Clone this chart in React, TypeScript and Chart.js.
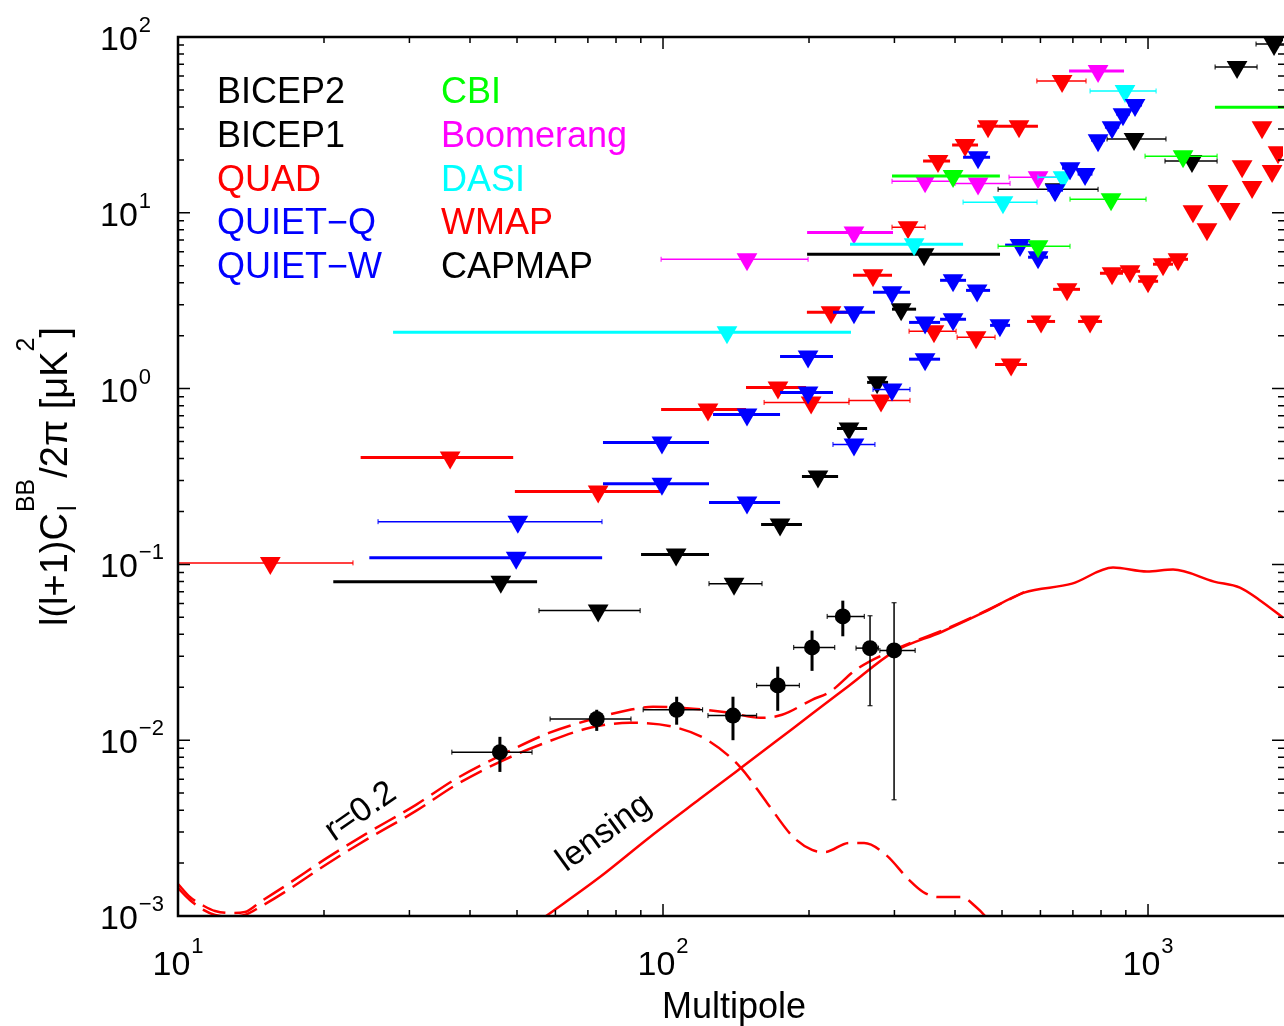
import React, { useEffect, useRef } from 'react';
import { Chart, registerables } from 'chart.js';

Chart.register(...registerables);

type Band = [number, number, number | null, number | null];

// ---------- axis ranges ----------
const X_MIN = 10;
const X_MAX = 1898;
const Y_MIN = 0.001;
const Y_MAX = 100;

// ---------- model curves ----------
const lensingL = [57.4, 74.1, 94.0, 119.2, 142.1, 169.4, 202.9, 241.8, 299.5, 376.1, 456.9, 555.2, 697, 847, 995, 1126, 1368, 1547, 1694, 1898];
const lensingV = [0.001, 0.001667, 0.002818, 0.00464, 0.00669, 0.00966, 0.01414, 0.0204, 0.0319, 0.0414, 0.0531, 0.0691, 0.0777, 0.0959, 0.091, 0.0934, 0.0798, 0.0738, 0.063, 0.0498];

const tensorL = [10, 10.58, 11.31, 11.92, 12.8, 13.74, 14.76, 16.86, 20.29, 24.41, 30.95, 37.43, 46.1, 55.8, 70.7, 85.5, 104.9, 123.2, 144.1, 163.9, 185.4, 202.9, 215.8, 241.8, 259.8, 288.3, 321.6, 343.7, 369, 411.7, 442, 461.3, 495];
const tensorV = [0.001443, 0.001233, 0.00108, 0.001013, 0.00099, 0.001013, 0.001125, 0.001406, 0.001977, 0.00271, 0.00396, 0.00557, 0.00753, 0.00942, 0.01177, 0.01256, 0.01192, 0.01005, 0.00706, 0.0044, 0.00282, 0.002376, 0.002314, 0.002604, 0.002604, 0.002225, 0.001603, 0.00137, 0.001283, 0.001283, 0.001125, 0.001, 0.00078];

const totalL = [10, 10.58, 11.31, 11.92, 12.8, 13.74, 14.76, 16.86, 20.29, 24.41, 30.95, 37.43, 46.1, 58.2, 70.7, 85.5, 95.4, 115.3, 137.5, 158.5, 176, 202.9, 221, 250, 299.5, 376.1, 456.9, 555.2];
const totalV = [0.00152, 0.001283, 0.00114, 0.001068, 0.00104, 0.001054, 0.0012, 0.00152, 0.00214, 0.00293, 0.00429, 0.00603, 0.00815, 0.011, 0.01306, 0.0149, 0.0155, 0.0151, 0.01432, 0.0134, 0.01395, 0.01698, 0.01886, 0.0252, 0.0327, 0.042, 0.0535, 0.0695];

// ---------- BICEP2 detections ----------
const bicep2L = [46.1, 73.0, 106.7, 139.4, 172.4, 202.9, 234.8, 267.2, 299.5];
const bicep2V = [0.00855, 0.0132, 0.0149, 0.0138, 0.0205, 0.0337, 0.0506, 0.0334, 0.0324];
const bicep2VLow = [0.0066, 0.0113, 0.01225, 0.01, 0.0147, 0.0248, 0.039, 0.0157, 0.00458];
const bicep2VHigh = [0.01045, 0.0149, 0.01767, 0.01767, 0.0262, 0.042, 0.0622, 0.051, 0.0605];
const bicep2LLow = [36.7, 58.5, 91.0, 123.8, 156, 186, 218, 250, 280];
const bicep2LHigh = [53.7, 85.9, 120.7, 156, 191, 226, 260, 278, 331];

// ---------- upper limits: [multipole, limit, band low, band high] ----------
const quadBands: Band[] = [
  [36.4, 0.406, 23.8, 49.1], [73.5, 0.26, 49.5, 98.6], [123.8, 0.761, 99.1, 148.3], [172.6, 1.016, 148.3, 197.2],
  [222, 2.72, 198, 246.5], [271, 4.41, 246.5, 296.6], [369, 19.7, 343.7, 390.7], [419.6, 24.3, 394.5, 446.2],
  [467.9, 31.1, 444.2, 490.7], [542, 31.1, 490.7, 593], [522, 1.37, 483.7, 563], [601.8, 2.41, 563, 643.2],
  [680.8, 3.67, 637.2, 724.1], [759.5, 2.41, 717.4, 803.9], [843, 4.53, 796, 888], [918, 4.65, 876, 963],
  [1000, 4.08, 954, 1049], [1074, 5.1, 1024, 1126], [1153, 5.44, 1100, 1209],
  [1238, 10.2, null, null], [1323, 8.07, null, null], [1394, 13.3, null, null], [1476, 10.5, null, null],
  [1563, 18.4, null, null], [1639, 14.0, null, null], [1718, 30.7, null, null], [1802, 17.3, null, null], [1854, 22.1, null, null],
];
const wmapBands: Band[] = [
  [15.5, 0.102, 9, 22.95], [202, 0.834, 161.6, 241.8], [281.5, 0.857, 241.8, 323], [320, 8.28, 296.6, 347],
  [362, 2.12, 321.6, 402], [442, 1.96, 404, 483.7], [665, 56.2, 590, 745],
];
const quietQBands: Band[] = [
  [49.8, 0.109, 24.8, 74.9], [99.5, 0.494, 75.2, 124.4], [99.5, 0.288, 75.2, 124.4], [149, 0.225, 124.4, 174.3],
  [149, 0.713, 126.8, 174.3], [199.1, 1.525, 174.3, 224.1], [199.1, 0.951, 174.3, 224.1], [247.6, 2.72, 224.1, 273.5],
  [296.6, 3.53, 271, 323], [347, 2.38, 321.6, 372.6], [347, 1.47, 321.6, 372.6], [396.3, 2.48, 372.6, 421.5],
  [396.3, 4.13, 372.6, 421.5], [444.2, 3.62, 421.5, 472.4], [495, 2.29, 472.4, 519.4], [446.2, 20.7, 415.6, 472.4],
  [544.6, 6.55, 507.4, 584.8], [593.3, 5.59, 565.8, 622], [643.2, 13.45, 620, 668], [690.5, 17.95, 665, 716],
  [741.6, 16.6, 716, 768], [788.8, 25.9, 763, 815], [843, 30.7, 815, 872], [888, 36.4, 860, 917], [940.2, 41.0, 910, 972],
];
const quietWBands: Band[] = [
  [50.2, 0.175, 25.85, 74.85], [247.6, 0.481, 224.1, 273.5], [296.6, 0.989, 271, 323],
];
const capmapBands: Band[] = [
  [46.3, 0.0798, 20.9, 55.0], [106.4, 0.114, 90.1, 124.4], [174.3, 0.1685, 159.3, 193.4], [208.7, 0.316, 193.4, 229.6],
  [241.8, 0.593, 228.4, 263.5], [276.3, 1.085, 263.5, 291.1], [309.7, 2.83, 296.6, 332.5], [345.3, 5.81, 198.2, 495.3],
];
const bicep1Bands: Band[] = [
  [73.5, 0.0546, 55.5, 89.7], [140.1, 0.0777, 124.4, 160], [643.2, 13.6, 490.7, 788.8], [935.8, 26.3, 823.3, 1089],
  [1232, 19.7, 1084, 1388], [1526, 67.5, 1375, 1678], [1819, 91.2, 1670, 2000],
];
const cbiWideBands: Band[] = [[396.3, 16.2, 296.6, 495], [2100, 39.9, 1374, 3200]];
const cbiBands: Band[] = [[1181, 21.0, 986, 1388], [839, 11.95, 690.5, 990.6], [593.3, 6.45, 490.7, 690.5]];
const boomerangWideBands: Band[] = [[247.6, 7.73, 198.2, 298], [788.8, 64.0, 687.3, 892.4]];
const boomerangBands: Band[] = [[149, 5.44, 99.1, 199.1], [347, 15.1, 296.6, 400], [446.2, 14.7, 400, 519.4], [593.3, 15.95, 516.9, 664.9]];
const dasiWideBands: Band[] = [[135.5, 2.09, 27.76, 244.1], [329.4, 6.63, 243, 415.6]];
const dasiBands: Band[] = [[502.3, 11.5, 415.6, 590.4], [668, 15.95, 593, 690.5], [896.5, 49.3, 759.5, 1039]];

// ---------- legend text ----------
const legendLeft = ['BICEP2', 'BICEP1', 'QUAD', 'QUIET\u2212Q', 'QUIET\u2212W'];
const legendRight = ['CBI', 'Boomerang', 'DASI', 'WMAP', 'CAPMAP'];

const RED = '#ff0000';
const BLUE = '#0000ff';
const GREEN = '#00ff00';
const MAGENTA = '#ff00ff';
const CYAN = '#00ffff';
const BLACK = '#000000';
const legendLeftColors = [BLACK, BLACK, RED, BLUE, BLUE];
const legendRightColors = [GREEN, MAGENTA, CYAN, RED, BLACK];

const FONT = '"Liberation Sans", Arial, Helvetica, sans-serif';

function curve(label: string, ls: number[], vs: number[], dash: number[]) {
  return {
    label,
    data: ls.map((l, i) => ({ x: l, y: vs[i] })),
    showLine: true,
    borderColor: RED,
    borderWidth: 2.5,
    borderDash: dash,
    pointRadius: 0,
    pointHoverRadius: 0,
    fill: false,
    cubicInterpolationMode: 'monotone',
    order: 20,
  };
}

function limits(label: string, bands: Band[], color: string, barWidth: number, caps: boolean, order: number) {
  return {
    label,
    data: bands.map(([l, v, lo, hi]) => ({ x: l, y: v, xMin: lo, xMax: hi })),
    showLine: false,
    pointStyle: 'triangle',
    pointRotation: 180,
    pointRadius: 12,
    pointHoverRadius: 12,
    pointBackgroundColor: color,
    pointBorderColor: color,
    pointBorderWidth: 0,
    backgroundColor: color,
    borderColor: color,
    order,
    errorBars: { color, width: barWidth, caps },
  };
}

const errorBarPlugin = {
  id: 'errorBars',
  beforeDatasetDraw(chart: any, args: any) {
    const ds: any = chart.data.datasets[args.index];
    const eb = ds.errorBars;
    if (!eb) return;
    const { ctx, chartArea: a } = chart;
    const xs = chart.scales.x;
    const ys = chart.scales.y;
    ctx.save();
    ctx.beginPath();
    ctx.rect(a.left, a.top, a.right - a.left + 2, a.bottom - a.top);
    ctx.clip();
    ctx.strokeStyle = eb.color;
    ctx.lineCap = 'butt';
    ds.data.forEach((p: any) => {
      const px = xs.getPixelForValue(p.x);
      const py = ys.getPixelForValue(p.y);
      if (p.xMin != null && p.xMax != null) {
        const x1 = xs.getPixelForValue(p.xMin);
        const x2 = xs.getPixelForValue(p.xMax);
        ctx.lineWidth = eb.width;
        ctx.beginPath();
        ctx.moveTo(x1, py);
        ctx.lineTo(x2, py);
        ctx.stroke();
        if (eb.caps) {
          ctx.lineWidth = 1;
          ctx.beginPath();
          ctx.moveTo(x1, py - 2.5);
          ctx.lineTo(x1, py + 2.5);
          ctx.moveTo(x2, py - 2.5);
          ctx.lineTo(x2, py + 2.5);
          ctx.stroke();
        }
      }
      if (p.yMin != null && p.yMax != null) {
        const y1 = ys.getPixelForValue(p.yMin);
        const y2 = ys.getPixelForValue(p.yMax);
        const wide = p.yMax / p.yMin > 3;
        ctx.lineWidth = wide ? 1.5 : eb.yWidth;
        ctx.beginPath();
        ctx.moveTo(px, y1);
        ctx.lineTo(px, y2);
        ctx.stroke();
        if (wide) {
          ctx.lineWidth = 1;
          ctx.beginPath();
          ctx.moveTo(px - 2.5, y1);
          ctx.lineTo(px + 2.5, y1);
          ctx.moveTo(px - 2.5, y2);
          ctx.lineTo(px + 2.5, y2);
          ctx.stroke();
        }
      }
    });
    ctx.restore();
  },
};

function supLabel(ctx: CanvasRenderingContext2D, x: number, baseMain: number, baseSup: number, exp: string, align: 'center' | 'left') {
  ctx.font = `34px ${FONT}`;
  const w1 = ctx.measureText('10').width;
  ctx.font = `22px ${FONT}`;
  const w2 = ctx.measureText(exp).width;
  const start = align === 'center' ? x - (w1 + w2 + 1) / 2 : x;
  ctx.textAlign = 'left';
  ctx.textBaseline = 'alphabetic';
  ctx.font = `34px ${FONT}`;
  ctx.fillText('10', start, baseMain);
  ctx.font = `22px ${FONT}`;
  ctx.fillText(exp, start + w1 + 1, baseSup);
}

function expText(d: number) {
  return d < 0 ? '\u2212' + Math.abs(d) : String(d);
}

const axesPlugin = {
  id: 'idlAxes',
  afterDraw(chart: any) {
    const { ctx, chartArea: a } = chart;
    const xs = chart.scales.x;
    const ys = chart.scales.y;
    ctx.save();
    ctx.fillStyle = BLACK;
    ctx.strokeStyle = BLACK;

    // frame (right edge lies at the picture border)
    ctx.lineWidth = 2.5;
    ctx.beginPath();
    ctx.moveTo(a.left, a.top);
    ctx.lineTo(a.right + 2, a.top);
    ctx.moveTo(a.left, a.bottom);
    ctx.lineTo(a.right + 2, a.bottom);
    ctx.moveTo(a.left, a.top - 1.2);
    ctx.lineTo(a.left, a.bottom + 1.2);
    ctx.stroke();

    // ticks
    ctx.lineWidth = 1.5;
    ctx.beginPath();
    for (let d = Math.floor(Math.log10(X_MIN)); d <= Math.ceil(Math.log10(X_MAX)); d++) {
      for (let m = 1; m <= 9; m++) {
        const v = m * Math.pow(10, d);
        if (v < X_MIN || v > X_MAX) continue;
        const px = xs.getPixelForValue(v);
        const len = m === 1 ? 12 : 6;
        ctx.moveTo(px, a.bottom);
        ctx.lineTo(px, a.bottom - len);
        ctx.moveTo(px, a.top);
        ctx.lineTo(px, a.top + len);
      }
    }
    for (let d = Math.round(Math.log10(Y_MIN)); d <= Math.round(Math.log10(Y_MAX)); d++) {
      for (let m = 1; m <= 9; m++) {
        const v = m * Math.pow(10, d);
        if (v < Y_MIN * 0.999 || v > Y_MAX * 1.001) continue;
        const py = ys.getPixelForValue(v);
        const len = m === 1 ? 12 : 6;
        ctx.moveTo(a.left, py);
        ctx.lineTo(a.left + len, py);
        ctx.moveTo(a.right + 1, py);
        ctx.lineTo(a.right + 1 - len, py);
      }
    }
    ctx.stroke();

    // tick labels
    for (let d = 1; d <= 3; d++) {
      const px = xs.getPixelForValue(Math.pow(10, d));
      supLabel(ctx, px, a.bottom + 59, a.bottom + 37, expText(d), 'center');
    }
    for (let d = -3; d <= 2; d++) {
      const py = ys.getPixelForValue(Math.pow(10, d));
      supLabel(ctx, a.left - 78, py + 13, py - 5, expText(d), 'left');
    }

    // x title
    ctx.font = `36px ${FONT}`;
    ctx.textAlign = 'center';
    ctx.textBaseline = 'alphabetic';
    ctx.fillText('Multipole', a.left + 556, a.bottom + 102);

    // y title
    const mainF = `38px ${FONT}`;
    const supF = `25px ${FONT}`;
    ctx.font = mainF;
    const w1 = ctx.measureText('l(l+1)C').width;
    const w3 = ctx.measureText('/2\u03c0 [\u03bcK').width;
    const w5 = ctx.measureText(']').width;
    ctx.font = supF;
    const w2 = Math.max(ctx.measureText('BB').width, ctx.measureText('l').width);
    const w4 = ctx.measureText('2').width;
    const total = w1 + w2 + w3 + w4 + w5 + 2;
    ctx.save();
    ctx.translate(67, (a.top + a.bottom) / 2);
    ctx.rotate(-Math.PI / 2);
    ctx.textAlign = 'left';
    let x = -total / 2;
    ctx.font = mainF;
    ctx.fillText('l(l+1)C', x, 0);
    x += w1 + 1;
    ctx.font = supF;
    ctx.fillText('BB', x, -33);
    ctx.fillText('l', x + 1, 9);
    x += w2 + 1;
    ctx.font = mainF;
    ctx.fillText('/2\u03c0 [\u03bcK', x, 0);
    x += w3;
    ctx.font = supF;
    ctx.fillText('2', x, -33);
    x += w4;
    ctx.font = mainF;
    ctx.fillText(']', x, 0);
    ctx.restore();

    // legend
    ctx.font = `36px ${FONT}`;
    ctx.textAlign = 'left';
    legendLeft.forEach((t, i) => {
      ctx.fillStyle = legendLeftColors[i];
      ctx.fillText(t, 217, 103 + i * 43.8);
    });
    legendRight.forEach((t, i) => {
      ctx.fillStyle = legendRightColors[i];
      ctx.fillText(t, 441, 103 + i * 43.8);
    });

    // curve annotations
    ctx.fillStyle = BLACK;
    ctx.textAlign = 'center';
    ctx.textBaseline = 'middle';
    const annot = (txt: string, l: number, v: number, ang: number) => {
      ctx.save();
      ctx.translate(xs.getPixelForValue(l), ys.getPixelForValue(v));
      ctx.rotate(ang);
      ctx.fillText(txt, 0, 0);
      ctx.restore();
    };
    ctx.font = `34px ${FONT}`;
    annot('r=0.2', 23.8, 0.00391, (-35 * Math.PI) / 180);
    annot('lensing', 75.6, 0.00297, (-36 * Math.PI) / 180);

    ctx.restore();
  },
};

export default function App() {
  const ref = useRef<HTMLCanvasElement>(null);

  useEffect(() => {
    const canvas = ref.current;
    if (!canvas) return;
    const datasets: any[] = [
      {
        label: 'BICEP2',
        data: bicep2L.map((l, i) => ({ x: l, y: bicep2V[i], xMin: bicep2LLow[i], xMax: bicep2LHigh[i], yMin: bicep2VLow[i], yMax: bicep2VHigh[i] })),
        showLine: false,
        pointStyle: 'circle',
        pointRadius: 8,
        pointHoverRadius: 8,
        pointBackgroundColor: BLACK,
        pointBorderWidth: 0,
        backgroundColor: BLACK,
        borderColor: BLACK,
        order: 0,
        errorBars: { color: BLACK, width: 1.5, caps: true, yWidth: 3 },
      },
      limits('CBI', cbiWideBands, GREEN, 3, false, 1),
      limits('CBI thin', cbiBands, GREEN, 1.5, true, 1),
      limits('QUIET-Q', quietQBands, BLUE, 3, false, 2),
      limits('QUIET-W', quietWBands, BLUE, 1.5, true, 2),
      limits('DASI', dasiWideBands, CYAN, 3, false, 3),
      limits('DASI thin', dasiBands, CYAN, 1.5, true, 3),
      limits('Boomerang', boomerangWideBands, MAGENTA, 3, false, 4),
      limits('Boomerang thin', boomerangBands, MAGENTA, 1.5, true, 4),
      limits('QUAD', quadBands, RED, 3, false, 5),
      limits('WMAP', wmapBands, RED, 1.5, true, 5),
      limits('CAPMAP', capmapBands, BLACK, 3, false, 6),
      limits('BICEP1', bicep1Bands, BLACK, 1.5, true, 6),
      curve('lensing', lensingL, lensingV, []),
      curve('r=0.2 + lensing', totalL, totalV, [24, 9]),
      curve('r=0.2', tensorL, tensorV, [24, 9]),
    ];

    const chart = new Chart(canvas, {
      type: 'scatter',
      data: { datasets },
      options: {
        animation: false,
        responsive: false,
        devicePixelRatio: 1,
        layout: { autoPadding: false, padding: { left: 178, top: 37, right: 1, bottom: 110 } },
        plugins: {
          legend: { display: false },
          tooltip: { enabled: false },
        },
        events: [],
        scales: {
          x: { type: 'logarithmic', min: X_MIN, max: X_MAX, display: false },
          y: { type: 'logarithmic', min: Y_MIN, max: Y_MAX, display: false },
        },
      } as any,
      plugins: [errorBarPlugin, axesPlugin],
    } as any);

    return () => chart.destroy();
  }, []);

  return (
    <div style={{ position: 'absolute', left: 0, top: 0, width: 1284, height: 1026, background: '#ffffff', overflow: 'hidden' }}>
      <canvas ref={ref} width={1284} height={1026} style={{ display: 'block', width: 1284, height: 1026 }} />
    </div>
  );
}
